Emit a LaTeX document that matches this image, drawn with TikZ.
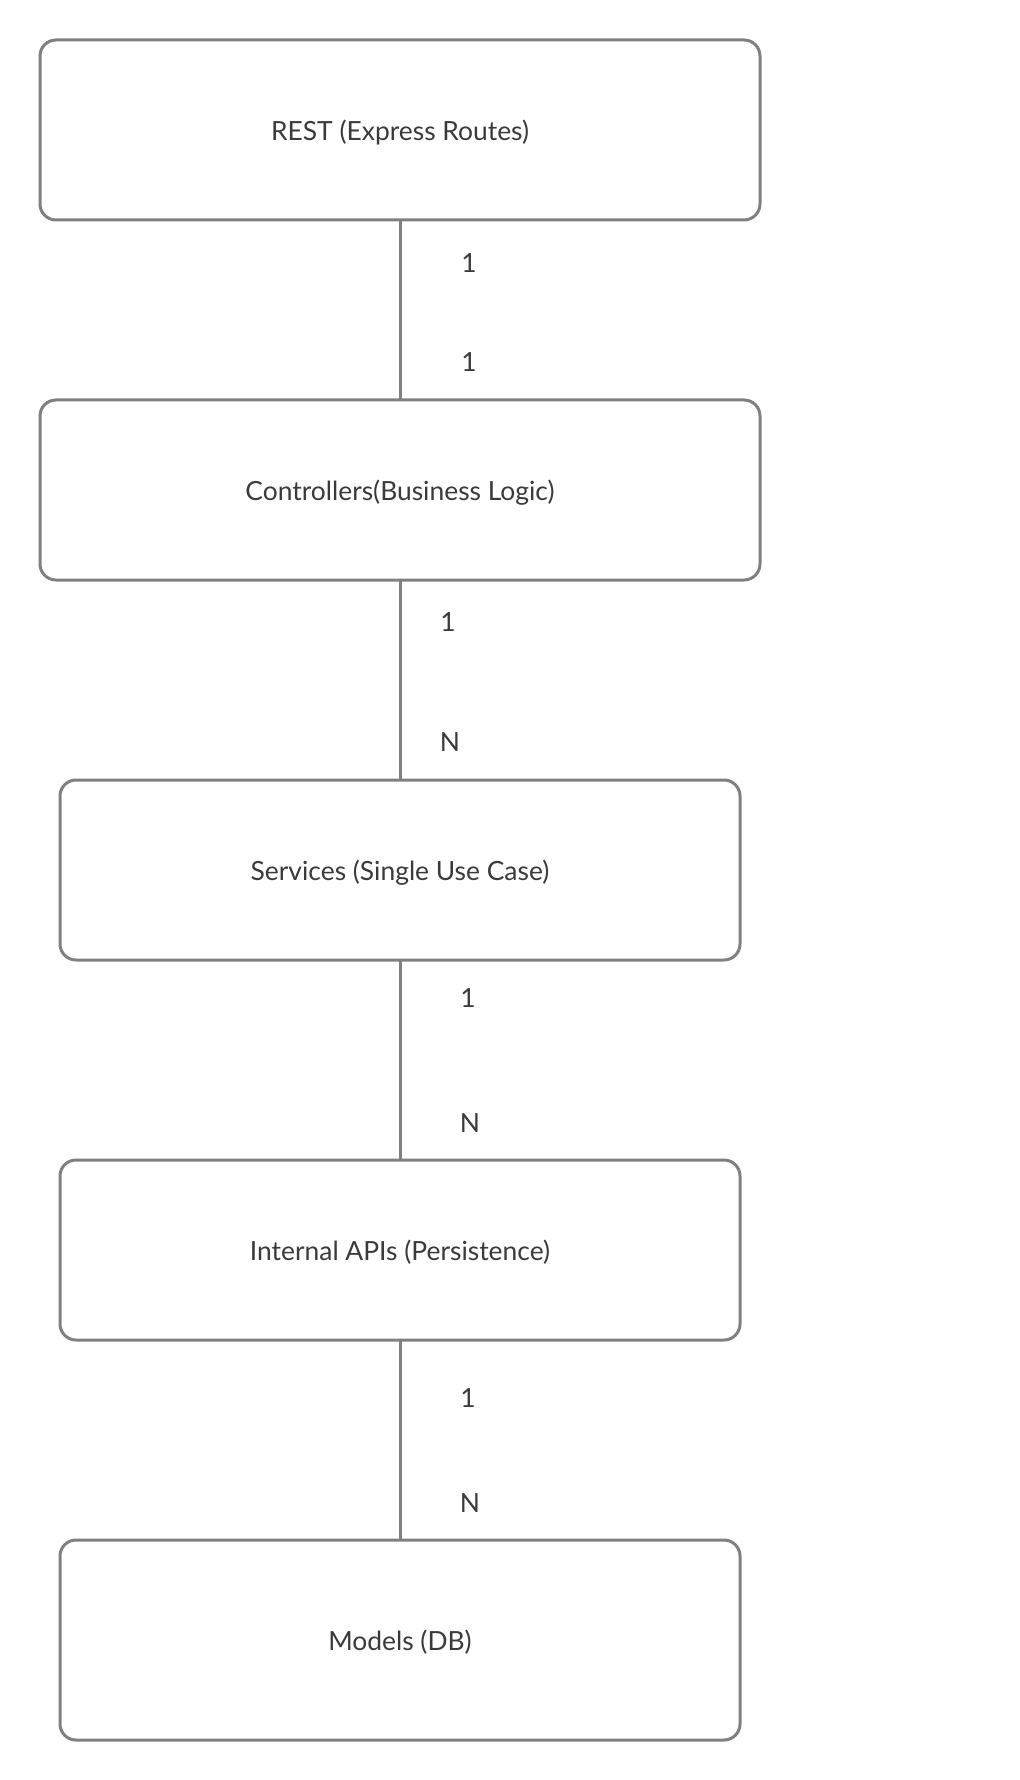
\documentclass[tikz,border=0pt]{standalone}
\usepackage{fontspec}
\setmainfont{Lato}
\usetikzlibrary{positioning}
\definecolor{boxline}{RGB}{128,128,128}
\definecolor{boxtext}{RGB}{58,58,58}
\tikzset{
  layer/.style={rectangle,rounded corners=8pt,draw=boxline,line width=1.5pt,
                minimum width=340pt,minimum height=90pt,align=center,outer sep=0pt,
                text depth=0pt,text=boxtext,font=\fontsize{13.2}{15}\selectfont},
  link/.style={draw=boxline,line width=1.5pt},
  card/.style={text=boxtext,font=\fontsize{13.2}{15}\selectfont,inner sep=0pt}
}

\begin{document}
\begin{tikzpicture}[node distance=100pt]
  \useasboundingbox (0,0) rectangle (510pt,-890pt);
  \node[layer, minimum width=360pt] (rest) at (200pt,-65pt) {REST (Express Routes)};
  \node[layer, minimum width=360pt, below=90pt of rest] (ctrl) {Controllers(Business Logic)};
  \node[layer, below=of ctrl] (svc) {Services (Single Use Case)};
  \node[layer, below=of svc] (api) {Internal APIs (Persistence)};
  \node[layer, minimum height=100pt, below=of api] (models) {Models (DB)};

  % Cardinalities
  \draw[link] (rest) -- node[card, pos=0.24, xshift=34.5pt] (c1top) {1}
                        node[card, pos=0.79, xshift=34.5pt] (c1bot) {1} (ctrl);
  \draw[link] (ctrl) -- node[card, pos=0.21, xshift=24pt] (c2top) {1}
                        node[card, pos=0.81, xshift=25pt] (c2bot) {N} (svc);
  \draw[link] (svc) -- node[card, pos=0.19, xshift=34pt] (c3top) {1}
                       node[card, pos=0.815, xshift=35pt] (c3bot) {N} (api);
  \draw[link] (api) -- node[card, pos=0.29, xshift=34pt] (c4top) {1}
                       node[card, pos=0.815, xshift=35pt] (c4bot) {N} (models);
\end{tikzpicture}
\end{document}
